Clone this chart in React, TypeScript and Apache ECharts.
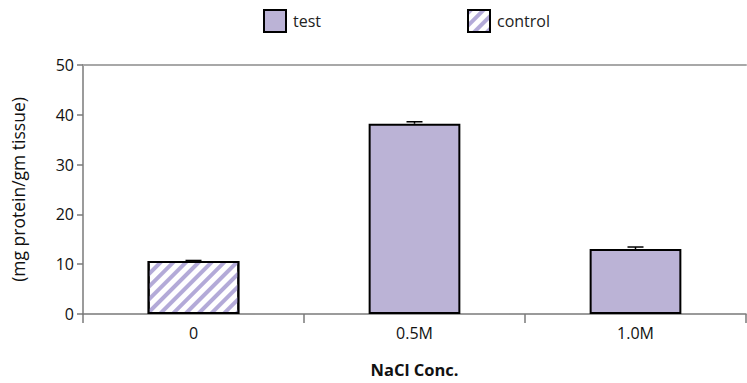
import React, { useEffect, useRef } from "react";
import * as echarts from "echarts";

const categories = ["0", "0.5M", "1.0M"];
const testValues: (number | string)[] = ["-", 38.2, 13.05];
const controlValues: (number | string)[] = [10.65, "-", "-"];
const means = [10.65, 38.2, 13.05];
const errors = [0.1, 0.4, 0.4];
const yTicks = { min: 0, max: 50, interval: 10 };

const FONT = "'Open Sans', 'Noto Sans', sans-serif";
const BAR = "#bbb3d6";
const STRIPE = "#b3aad8";

export default function App() {
  const ref = useRef<HTMLDivElement>(null);
  useEffect(() => {
    if (!ref.current) return;
    const chart = echarts.init(ref.current, null, { renderer: "svg" });
    const errData = means.map((m, i) => [i, m, errors[i]]);
    const legendText = { fontSize: 16, color: "#222", fontFamily: FONT, padding: [0, 0, 0, 2] };
    chart.setOption({
      animation: false,
      textStyle: { fontFamily: FONT },
      legend: [
        {
          data: ["test"],
          icon: "rect",
          left: 258,
          top: 4,
          itemWidth: 22,
          itemHeight: 22,
          textStyle: legendText,
        },
        {
          data: ["control"],
          icon: "rect",
          left: 462,
          top: 4,
          itemWidth: 22,
          itemHeight: 22,
          textStyle: legendText,
        },
      ],
      grid: {
        left: 83,
        right: 1,
        top: 65,
        bottom: 69,
        containLabel: false,
        outerBoundsMode: "none",
      },
      xAxis: [
        {
          type: "category",
          data: categories,
          name: "NaCl Conc.",
          nameLocation: "middle",
          nameGap: 47,
          nameTextStyle: { fontSize: 16.5, fontWeight: "bold", color: "#111", fontFamily: FONT },
          axisLine: { lineStyle: { color: "#7a7a7a", width: 1.5 } },
          axisTick: { show: true, length: 9, lineStyle: { color: "#7a7a7a", width: 1.5 } },
          axisLabel: { fontSize: 16, color: "#111", margin: 11, fontFamily: FONT },
        },
        {
          type: "category",
          data: categories,
          position: "top",
          axisLine: { show: true, lineStyle: { color: "#a8a8a8", width: 2 } },
          axisTick: { show: false },
          axisLabel: { show: false },
        },
      ],
      yAxis: {
        type: "value",
        min: yTicks.min,
        max: yTicks.max,
        interval: yTicks.interval,
        name: "(mg protein/gm tissue)",
        nameLocation: "middle",
        nameGap: 56,
        nameTextStyle: { fontSize: 17.5, color: "#111", fontFamily: FONT },
        axisLine: { show: true, lineStyle: { color: "#7a7a7a", width: 1.5 } },
        axisTick: { show: true, length: 6, lineStyle: { color: "#7a7a7a", width: 1.5 } },
        axisLabel: { fontSize: 16, color: "#111", margin: 9, fontFamily: FONT },
        splitLine: { show: false },
      },
      series: [
        {
          name: "test",
          type: "bar",
          stack: "s",
          data: testValues,
          barWidth: "41.5%",
          itemStyle: { color: BAR, borderColor: "#000", borderWidth: 2 },
        },
        {
          name: "control",
          type: "bar",
          stack: "s",
          data: controlValues,
          barWidth: "41.5%",
          itemStyle: {
            color: "#ffffff",
            borderColor: "#000",
            borderWidth: 2,
            decal: {
              symbol: "rect",
              symbolSize: 1,
              dashArrayX: [1, 0],
              dashArrayY: [4, 5],
              rotation: -Math.PI / 4,
              color: STRIPE,
              backgroundColor: "#ffffff",
            },
          },
        },
        {
          name: "err",
          type: "custom",
          data: errData,
          z: 10,
          renderItem: (params: any, api: any) => {
            const x = api.value(0);
            const m = api.value(1);
            const e = api.value(2);
            const top = api.coord([x, m + e]);
            const base = api.coord([x, m]);
            const half = 8;
            return {
              type: "group",
              children: [
                {
                  type: "line",
                  shape: { x1: top[0], y1: top[1], x2: base[0], y2: base[1] },
                  style: { stroke: "#000", lineWidth: 1.5 },
                },
                {
                  type: "line",
                  shape: { x1: top[0] - half, y1: top[1], x2: top[0] + half, y2: top[1] },
                  style: { stroke: "#000", lineWidth: 1.5 },
                },
              ],
            };
          },
        },
      ],
    });
    return () => chart.dispose();
  }, []);
  return (
    <div
      ref={ref}
      style={{ position: "fixed", left: 0, top: 0, width: 747, height: 383, background: "#fff" }}
    />
  );
}
